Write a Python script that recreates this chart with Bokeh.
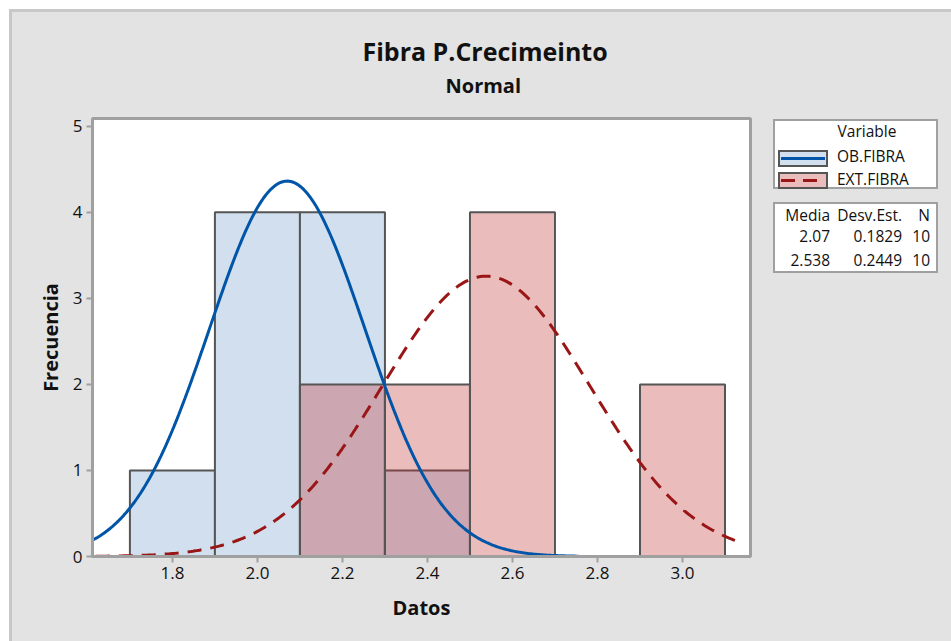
import numpy as np
from bokeh.plotting import figure
from bokeh.models import Range1d, FixedTicker, Title, Div, NumeralTickFormatter
from bokeh.layouts import row
from bokeh.embed import file_html
from bokeh.resources import INLINE

# ---- data ----
series = ["OB.FIBRA", "EXT.FIBRA"]
bin_left = [1.7, 1.9, 2.1, 2.3, 2.5, 2.7, 2.9]
bin_right = [1.9, 2.1, 2.3, 2.5, 2.7, 2.9, 3.1]
ob_counts = [1, 4, 4, 1, 0, 0, 0]
ext_counts = [0, 0, 2, 2, 4, 0, 2]
means = [2.07, 2.538]
sds = [0.1829, 0.2449]
ns = [10, 10]
mean_labels = ["2.07", "2.538"]
sd_labels = ["0.1829", "0.2449"]
n_labels = ["10", "10"]
x_ticks = [1.8, 2.0, 2.2, 2.4, 2.6, 2.8, 3.0]
y_ticks = [0, 1, 2, 3, 4, 5]
bin_width = 0.2

FONT = "Open Sans"
BG = "#E3E3E3"
EDGE = "#C8C8C8"
BLUE_FILL = "#D1DFEE"
BLUE_LINE = "#0055A8"
RED_FILL = (193, 46, 46)
RED_ALPHA = 0.32
RED_SOLID = "#EBBCBC"
RED_LINE = "#9A1515"
BAR_LINE = "#555555"
FRAME = "#A0A0A0"

XMIN, XMAX = 1.612, 3.16
p = figure(width=770, height=641, output_backend="svg", toolbar_location=None,
           x_range=Range1d(XMIN, XMAX), y_range=Range1d(0, 5.09),
           min_border_left=92, min_border_right=20, min_border_top=118, min_border_bottom=85)
p.background_fill_color = "white"
p.border_fill_alpha = 0
p.outline_line_color = FRAME
p.outline_line_width = 3
p.grid.visible = False

# bars (OB.FIBRA first, EXT.FIBRA translucent on top)
p.quad(left=[l for l, c in zip(bin_left, ob_counts) if c > 0],
       right=[r for r, c in zip(bin_right, ob_counts) if c > 0],
       bottom=0, top=[c for c in ob_counts if c > 0],
       fill_color=BLUE_FILL, line_color=BAR_LINE, line_width=2)
p.quad(left=bin_left[2:], right=bin_right[2:], bottom=0, top=ext_counts[2:],
       fill_color=RED_FILL, fill_alpha=RED_ALPHA, line_color=BAR_LINE, line_width=2)

# fitted normal curves (from the mean / std shown in the table)
def curve(m, s, n):
    lo = max(XMIN, m - 3.75 * s)
    hi = min(XMAX - 0.02, m + 3.75 * s)
    xs = np.linspace(lo, hi, 300)
    ys = n * bin_width * np.exp(-0.5 * ((xs - m) / s) ** 2) / (s * np.sqrt(2 * np.pi))
    return xs, ys

xs0, ys0 = curve(means[0], sds[0], ns[0])
xs1, ys1 = curve(means[1], sds[1], ns[1])
p.line(xs0, ys0, line_color=BLUE_LINE, line_width=3)
p.line(xs1, ys1, line_color=RED_LINE, line_width=3, line_dash="14 9")

# axes
for ax in (p.xaxis[0], p.yaxis[0]):
    ax.axis_line_color = FRAME
    ax.axis_line_width = 3
    ax.major_tick_line_color = FRAME
    ax.major_tick_line_width = 2
    ax.major_tick_out = 6
    ax.major_tick_in = 0
    ax.minor_tick_line_color = None
    ax.major_label_text_font = FONT
    ax.major_label_text_font_size = "17px"
    ax.major_label_text_color = "#111111"
    ax.axis_label_text_font = FONT
    ax.axis_label_text_font_size = "20px"
    ax.axis_label_text_font_style = "bold"
    ax.axis_label_text_color = "#111111"
p.xaxis.ticker = FixedTicker(ticks=x_ticks)
p.yaxis.ticker = FixedTicker(ticks=y_ticks)
p.xaxis.formatter = NumeralTickFormatter(format="0.0")
p.xaxis.axis_label = "Datos"
p.yaxis.axis_label = "Frecuencia"
p.xaxis.major_label_standoff = 4
p.yaxis.major_label_standoff = 4
p.xaxis.axis_label_standoff = 12
p.yaxis.axis_label_standoff = 6

# titles
p.add_layout(Title(text="Normal", align="left", offset=353, text_font=FONT,
                   text_font_size="20px", text_font_style="bold", text_color="#111111",
                   text_line_height=0.8, standoff=40), "above")
p.add_layout(Title(text="Fibra P.Crecimeinto", align="left", offset=270, text_font=FONT,
                   text_font_size="25px", text_font_style="bold", text_color="#111111",
                   standoff=-36), "above")

# ---- legend + statistics table (HTML, to the right of the plot) ----
FS = 15.5

def txt(s, left=None, right=None, baseline=0, center=None, size=FS):
    top = baseline - 0.885 * size
    pos = f"top:{top:.1f}px;"
    if left is not None:
        pos += f"left:{left}px;"
    if right is not None:
        pos += f"right:{181 - right}px;text-align:right;"
    if center is not None:
        pos += f"left:{center - 60}px;width:120px;text-align:center;"
    return (f'<div style="position:absolute;{pos}font-size:{size}px;line-height:{size}px;'
            f'white-space:nowrap;color:#111">{s}</div>')

def swatch(top, fill, line, dash):
    da = ' stroke-dasharray="14 8"' if dash else ""
    return (f'<svg style="position:absolute;left:8px;top:{top}px" width="50" height="17">'
            f'<rect x="1" y="1" width="48" height="15" fill="{fill}" stroke="{BAR_LINE}" stroke-width="2"/>'
            f'<line x1="3" y1="8.5" x2="47" y2="8.5" stroke="{line}" stroke-width="3"{da}/></svg>')

box = ('<div style="position:absolute;left:3px;top:{t}px;width:165px;height:{h}px;'
       'background:white;border:2px solid ' + FRAME + '"></div>')
parts = [box.format(t=119, h=70), box.format(t=202, h=71)]
parts.append(txt("Variable", center=97, baseline=138))
parts.append(swatch(150, BLUE_FILL, BLUE_LINE, False))
parts.append(swatch(172, RED_SOLID, RED_LINE, True))
parts.append(txt(series[0], left=67, baseline=163))
parts.append(txt(series[1], left=67, baseline=186))
for right, head, vals in ((60, "Media", mean_labels), (132, "Desv.Est.", sd_labels),
                          (160, "N", n_labels)):
    parts.append(txt(head, right=right, baseline=222))
    for i, v in enumerate(vals):
        parts.append(txt(v, right=right, baseline=243 + 24 * i))

html = (f'<div style="position:relative;width:181px;height:641px;'
        f'font-family:\'{FONT}\'">' + "".join(parts) + "</div>")
legend_div = Div(text=html, width=181, height=641, margin=0)

layout = row(p, legend_div, spacing=0, styles={
    "background-color": "white",
    "background-image": f"linear-gradient({BG},{BG}), linear-gradient({EDGE},{EDGE})",
    "background-position": "12px 12px, 9px 9px",
    "background-size": "100% 100%, 100% 100%",
    "background-repeat": "no-repeat",
})
open("out.html", "w").write(file_html(layout, INLINE))
